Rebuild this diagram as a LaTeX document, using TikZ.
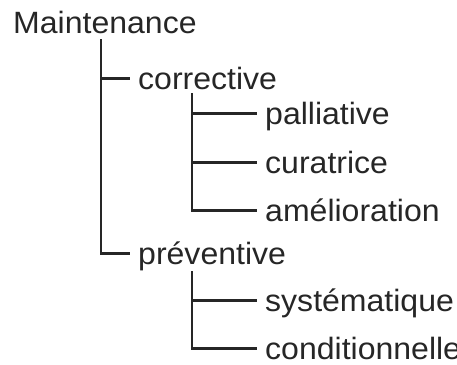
\documentclass[tikz,border=0pt]{standalone}
\usepackage{fontspec}
\setmainfont{Liberation Sans}[FakeStretch=1.04]
\begin{document}
\begin{tikzpicture}[x=1pt,y=1pt,
  lbl/.style={anchor=base west,inner sep=0pt,font=\fontsize{30.8}{36}\selectfont,text=black!85},
  br/.style={line width=2.8pt,draw=black!85}]
\useasboundingbox (0,0) rectangle (457,-364);
\begin{scope}
\clip (0,0) rectangle (457,-364);
\node[lbl] (m) at (13,-33) {Maintenance};
\node[lbl] (c) at (138,-89) {corrective};
\node[lbl] (pa) at (265,-124) {palliative};
\node[lbl] (cu) at (265,-173) {curatrice};
\node[lbl] (am) at (265,-221) {amélioration};
\node[lbl] (pr) at (138,-264) {préventive};
\node[lbl] (sy) at (265,-311) {systématique};
\node[lbl] (co) at (265,-359) {conditionnelle};
\coordinate (j1) at (101,-39);
\coordinate (j2) at (192,-93);
\coordinate (j3) at (192,-271);
\draw[br] (j1) |- ([xshift=-8pt,yshift=10.5pt]pr.base west);
\draw[br] (j1) |- ([xshift=-8pt,yshift=10.5pt]c.base west);
\draw[br] (j2) |- ([xshift=-8pt,yshift=10.5pt]am.base west);
\draw[br] (j2) |- ([xshift=-8pt,yshift=10.5pt]pa.base west);
\draw[br] (j2) |- ([xshift=-8pt,yshift=10.5pt]cu.base west);
\draw[br] (j3) |- ([xshift=-8pt,yshift=10.5pt]co.base west);
\draw[br] (j3) |- ([xshift=-8pt,yshift=10.5pt]sy.base west);
\end{scope}
\end{tikzpicture}
\end{document}
